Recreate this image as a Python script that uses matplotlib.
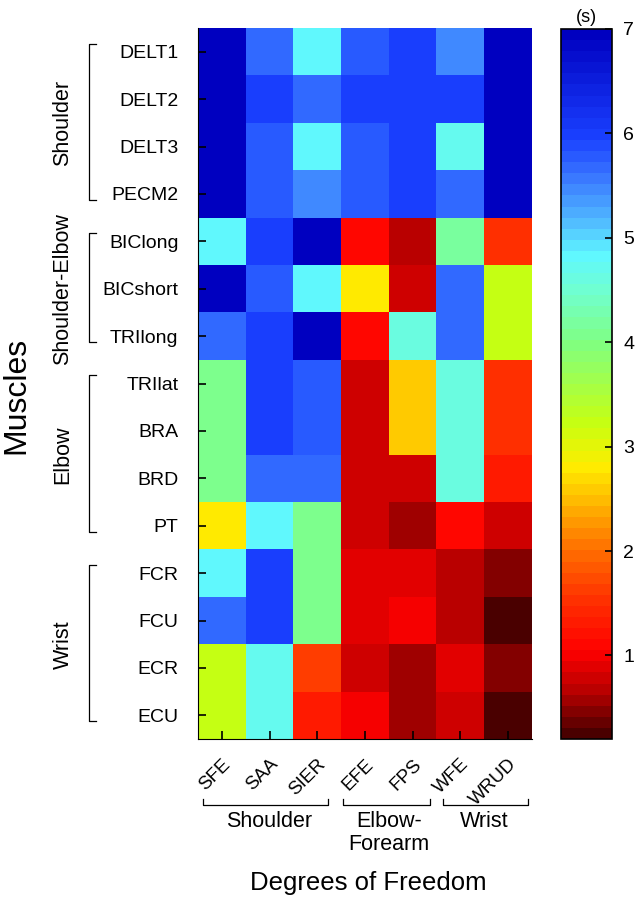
import numpy as np
import matplotlib
matplotlib.use("Agg")
import matplotlib.pyplot as plt
import matplotlib.transforms as mtransforms
from matplotlib.colors import LinearSegmentedColormap

plt.rcParams['font.family'] = ['Liberation Sans', 'DejaVu Sans']

# Data
muscles = ["DELT1", "DELT2", "DELT3", "PECM2", "BIClong", "BICshort", "TRIlong",
           "TRIlat", "BRA", "BRD", "PT", "FCR", "FCU", "ECR", "ECU"]
dofs = ["SFE", "SAA", "SIER", "EFE", "FPS", "WFE", "WRUD"]

delt1 = [7.0, 5.7, 4.8, 5.75, 6.0, 5.5, 7.0]
delt2 = [7.0, 6.0, 5.7, 6.0, 6.0, 6.0, 7.0]
delt3 = [7.0, 5.75, 4.8, 5.75, 6.0, 4.75, 7.0]
pecm2 = [7.0, 5.75, 5.5, 5.75, 6.0, 5.65, 7.0]
biclong = [4.8, 6.0, 6.95, 1.05, 0.7, 4.2, 1.5]
bicshort = [6.95, 5.75, 4.8, 2.75, 0.8, 5.7, 3.25]
trilong = [5.7, 6.0, 6.95, 1.05, 4.65, 5.7, 3.25]
trilat = [4.1, 6.0, 5.75, 0.8, 2.6, 4.65, 1.5]
bra = [4.1, 6.0, 5.75, 0.8, 2.6, 4.65, 1.5]
brd = [4.1, 5.7, 5.7, 0.8, 0.8, 4.65, 1.35]
pt = [2.75, 4.8, 4.1, 0.8, 0.6, 1.05, 0.8]
fcr = [4.8, 6.0, 4.1, 0.9, 0.85, 0.7, 0.45]
fcu = [5.7, 6.0, 4.1, 0.9, 0.95, 0.7, 0.25]
ecr = [3.25, 4.7, 1.6, 0.8, 0.55, 0.85, 0.45]
ecu = [3.25, 4.7, 1.3, 1.0, 0.55, 0.75, 0.3]

data = np.array([delt1, delt2, delt3, pecm2, biclong, bicshort, trilong,
                 trilat, bra, brd, pt, fcr, fcu, ecr, ecu])

muscle_groups = [("Shoulder", 0, 3), ("Shoulder-Elbow", 4, 6),
                 ("Elbow", 7, 10), ("Wrist", 11, 14)]
dof_groups = [("Shoulder", 0, 2), ("Elbow-\nForearm", 3, 4), ("Wrist", 5, 6)]

vmin, vmax = 0.2, 7.0

# jet-like colour scale
anchors = [(0.2, "#4a0000"), (0.6, "#b40000"), (1.0, "#ff0000"), (1.5, "#ff3000"),
           (2.0, "#ff7000"), (2.5, "#ffc000"), (2.8, "#ffec00"), (3.2, "#c8ff10"),
           (4.0, "#80ff80"), (4.5, "#70ffd0"), (4.85, "#60f8ff"), (5.2, "#50b8ff"),
           (5.6, "#3a78ff"), (6.0, "#1a40ff"), (7.0, "#0000c0")]
cmap = LinearSegmentedColormap.from_list(
    "timecmap", [((v - vmin) / (vmax - vmin), c) for v, c in anchors], N=64)

W, H = 636, 900
fig = plt.figure(figsize=(W / 100, H / 100), dpi=100)

ax = fig.add_axes([198 / W, 1 - 739 / H, 334 / W, 711 / H])
im = ax.imshow(data, cmap=cmap, vmin=vmin, vmax=vmax, aspect="auto",
               interpolation="nearest")

ax.set_xticks(range(len(dofs)))
ax.set_xticklabels(dofs, rotation=45, ha="right", rotation_mode="anchor", fontsize=13.5)
ax.set_yticks(range(len(muscles)))
ax.set_yticklabels(muscles, fontsize=14)
ax.tick_params(axis="both", direction="in", length=6, width=1.2)
ax.tick_params(axis="y", pad=14)
ax.tick_params(axis="x", pad=12)
ax.spines["top"].set_visible(False)
ax.spines["right"].set_visible(False)

# left brackets for muscle groups
trans_y = mtransforms.blended_transform_factory(fig.transFigure, ax.transData)
bx, bx2 = 89 / W, 96 / W
for name, r0, r1 in muscle_groups:
    y0, y1 = r0 - 0.17, r1 + 0.13
    fig.add_artist(plt.Line2D([bx2, bx, bx, bx2], [y0, y0, y1, y1],
                              transform=trans_y, color="black", lw=0.9))
    fig.text(63 / W, (r0 + r1) / 2, name, transform=trans_y, rotation=90,
             ha="center", va="center", fontsize=15.5)

fig.text(16 / W, 1 - 395 / H, "Muscles", rotation=90, ha="center", va="center",
         fontsize=23)

# bottom brackets for DOF groups
trans_x = mtransforms.blended_transform_factory(ax.transData, fig.transFigure)
offs = {"Shoulder": (-0.4, 0.23), "Elbow-\nForearm": (-0.46, 0.36), "Wrist": (-0.36, 0.42)}
yb, yb2 = 1 - 805 / H, 1 - 799 / H
for name, c0, c1 in dof_groups:
    x0, x1 = c0 + offs[name][0], c1 + offs[name][1]
    fig.add_artist(plt.Line2D([x0, x0, x1, x1], [yb2, yb, yb, yb2],
                              transform=trans_x, color="black", lw=0.9))
    fig.text((c0 + c1) / 2, 1 - 811 / H, name, transform=trans_x, ha="center",
             va="top", fontsize=15.5, linespacing=1.1)

fig.text(368 / W, 1 - 883 / H, "Degrees of Freedom", ha="center", va="center",
         fontsize=18.5)

# colour bar
cax = fig.add_axes([561 / W, 1 - 739 / H, 51 / W, 710 / H])
cb = fig.colorbar(im, cax=cax, ticks=[1, 2, 3, 4, 5, 6, 7])
cb.outline.set_linewidth(1.2)
cax.tick_params(direction="in", length=5, width=1.2, labelsize=14, pad=8)
cax.set_title("(s)", fontsize=13, pad=5)

plt.savefig("out.png", dpi=100)
plt.close()
